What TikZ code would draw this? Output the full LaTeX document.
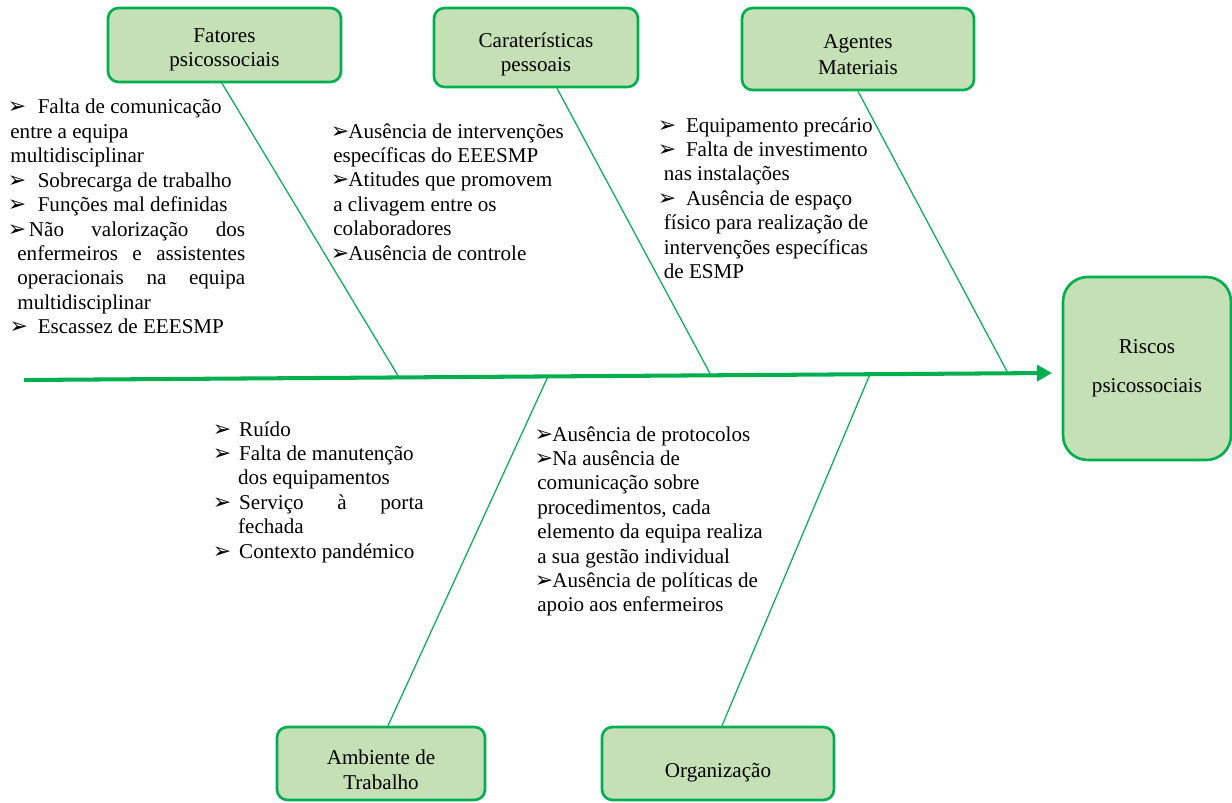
\documentclass[tikz,border=0pt]{standalone}
\usepackage{fontspec}
\setmainfont{Liberation Serif}
\newfontfamily\dejavu{DejaVu Sans}
\usetikzlibrary{arrows.meta}
\definecolor{verde}{HTML}{00B050}
\definecolor{verdeclaro}{HTML}{C5E0B4}
\newcommand{\bul}{\makebox[7.6pt][c]{\dejavu\fontsize{12.5}{12.5}\selectfont ➢}}

\begin{document}
\begin{tikzpicture}[x=0.02cm,y=-0.02cm]
	\tikzstyle{causa}=[draw=verde,line width=1.5pt,fill=verdeclaro,rounded corners=6pt,align=center,font=\fontsize{12}{13.9}\selectfont]
	\tikzstyle{lista}=[anchor=north west,inner sep=0pt,align=left,font=\fontsize{12}{13.9}\selectfont]
	\tikzstyle{osso}=[draw=verde,line width=0.7pt]
	\useasboundingbox (0,0) rectangle (1232,803);
	\node[causa,minimum width=4.66cm,minimum height=1.48cm](c1) at (224.5,45) {\rule{0pt}{13.5pt}Fatores\\psicossociais};
	\node[causa,minimum width=4.08cm,minimum height=1.58cm](c2) at (536,47.5) {\rule{0pt}{16pt}Caraterísticas\\pessoais};
	\node[causa,minimum width=4.64cm,minimum height=1.64cm](c3) at (858,49) {\rule{0pt}{14.5pt}Agentes\\[1pt]Materiais};
	\node[causa,minimum width=4.16cm,minimum height=1.46cm](c4) at (381,763.5) {\rule{0pt}{15.7pt}Ambiente de\\Trabalho};
	\node[causa,minimum width=4.64cm,minimum height=1.46cm](c5) at (718,763.5) {\rule{0pt}{18.5pt}Organização};
	\node[causa,minimum width=3.36cm,minimum height=3.66cm,rounded corners=14pt](r) at (1147,368.5) {Riscos\\[8pt]psicossociais};
	\coordinate (tail) at (24,380);
	\coordinate (head) at (1052,373);
	\coordinate (p1) at (399,377.4);
	\coordinate (p2) at (711,375.3);
	\coordinate (p3) at (1008,373.3);
	\coordinate (p4) at (548,376.4);
	\coordinate (p5) at (870,374.2);
	\draw[verde,line width=2.3pt,-{Triangle[length=8.5pt,width=9pt]}] (tail) -- (head);
	\draw[osso] ([xshift=-0.05cm]c1.south) -- (p1);
	\draw[osso] ([xshift=0.42cm]c2.south) -- (p2);
	\draw[osso] (c3.south) -- (p3);
	\draw[osso] ([xshift=0.14cm]c4.north) -- (p4);
	\draw[osso] ([xshift=0.08cm]c5.north) -- (p5);
	\node[lista](l1) at (10,99) {\bul\hspace{8pt}Falta de comunicação\\
		entre a equipa\\
		multidisciplinar\\
		\bul\hspace{8pt}Sobrecarga de trabalho\\
		\bul\hspace{8pt}Funções mal definidas\\
		\bul\hspace{3pt}\makebox[123pt][s]{Não valorização dos}\\
		\hspace*{4pt}\makebox[129.7pt][s]{enfermeiros e assistentes}\\
		\hspace*{4pt}\makebox[129.7pt][s]{operacionais na equipa}\\
		\hspace*{4pt}multidisciplinar\\
		\hspace*{1pt}\bul\hspace{7pt}Escassez de EEESMP};
	\node[lista](l2) at (333,123) {\bul\hspace{1pt}Ausência de intervenções\\
		específicas do EEESMP\\
		\bul\hspace{1pt}Atitudes que promovem\\
		a clivagem entre os\\
		colaboradores\\
		\bul\hspace{1pt}Ausência de controle};
	\node[lista](l3) at (660,117) {\bul\hspace{7pt}Equipamento precário\\
		\bul\hspace{7pt}Falta de investimento\\
		\hspace*{2pt}nas instalações\\
		\bul\hspace{7pt}Ausência de espaço\\
		\hspace*{2pt}físico para realização de\\
		\hspace*{2pt}intervenções específicas\\
		\hspace*{2pt}de ESMP};
	\node[lista](l4) at (215,421) {\bul\hspace{6pt}Ruído\\
		\bul\hspace{6pt}Falta de manutenção\\
		\hspace*{13pt}dos equipamentos\\
		\bul\hspace{6pt}\makebox[105pt][s]{Serviço à porta}\\
		\hspace*{13pt}fechada\\
		\bul\hspace{6pt}Contexto pandémico};
	\node[lista](l5) at (537,426) {\bul\hspace{1pt}Ausência de protocolos\\
		\bul\hspace{1pt}Na ausência de\\
		comunicação sobre\\
		procedimentos, cada\\
		elemento da equipa realiza\\
		a sua gestão individual\\
		\bul\hspace{1pt}Ausência de políticas de\\
		apoio aos enfermeiros};
\end{tikzpicture}
\end{document}
